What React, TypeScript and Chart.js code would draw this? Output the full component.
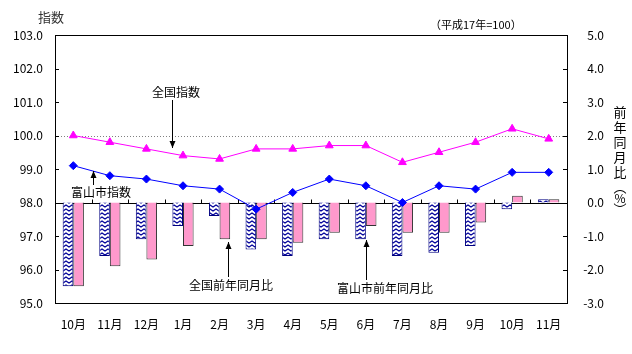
import { useEffect, useRef } from "react";
import { Chart, registerables } from "chart.js";

Chart.register(...registerables);

const months = ["10月", "11月", "12月", "1月", "2月", "3月", "4月", "5月", "6月", "7月", "8月", "9月", "10月", "11月"];
const nationalIndex = [100.0, 99.8, 99.6, 99.4, 99.3, 99.6, 99.6, 99.7, 99.7, 99.2, 99.5, 99.8, 100.2, 99.9];
const toyamaIndex = [99.1, 98.8, 98.7, 98.5, 98.4, 97.8, 98.3, 98.7, 98.5, 98.0, 98.5, 98.4, 98.9, 98.9];
const toyamaYoY = [-2.5, -1.6, -1.1, -0.7, -0.4, -1.4, -1.6, -1.1, -1.1, -1.6, -1.5, -1.3, -0.2, 0.1];
const nationalYoY = [-2.5, -1.9, -1.7, -1.3, -1.1, -1.1, -1.2, -0.9, -0.7, -0.9, -0.9, -0.6, 0.2, 0.1];
const leftTickValues = [95, 96, 97, 98, 99, 100, 101, 102, 103];
const rightTickValues = [-3, -2, -1, 0, 1, 2, 3, 4, 5];

const FONT = '"Noto Sans CJK JP", "Noto Sans", sans-serif';

function makePattern(): CanvasPattern | string {
  const c = document.createElement("canvas");
  c.width = 6;
  c.height = 4;
  const g = c.getContext("2d");
  if (!g) return "#ffffff";
  g.fillStyle = "#ffffff";
  g.fillRect(0, 0, 6, 4);
  g.strokeStyle = "#000099";
  g.lineWidth = 1.1;
  g.beginPath();
  g.moveTo(-1.5, 2.5);
  g.lineTo(0, 1);
  g.lineTo(3, 3);
  g.lineTo(6, 1);
  g.lineTo(7.5, 2);
  g.stroke();
  const p = g.createPattern(c, "repeat");
  return p || "#ffffff";
}

function arrow(ctx: CanvasRenderingContext2D, x: number, y1: number, y2: number) {
  ctx.save();
  ctx.strokeStyle = "#000";
  ctx.fillStyle = "#000";
  ctx.lineWidth = 1;
  ctx.beginPath();
  ctx.moveTo(x + 0.5, y1);
  ctx.lineTo(x + 0.5, y2);
  ctx.stroke();
  const dir = y2 > y1 ? 1 : -1;
  ctx.beginPath();
  ctx.moveTo(x + 0.5, y2);
  ctx.lineTo(x + 0.5 - 3, y2 - dir * 7);
  ctx.lineTo(x + 0.5 + 3, y2 - dir * 7);
  ctx.closePath();
  ctx.fill();
  ctx.restore();
}

const decorPlugin = {
  id: "decor",
  beforeDatasetsDraw(chart: any) {
    const { ctx, chartArea } = chart;
    const y = chart.scales.y;
    const y2 = chart.scales.y2;
    const x = chart.scales.x;
    ctx.save();
    const py = Math.round(y.getPixelForValue(100)) + 0.5;
    ctx.strokeStyle = "#808080";
    ctx.lineWidth = 1;
    ctx.setLineDash([1, 2]);
    ctx.beginPath();
    ctx.moveTo(chartArea.left, py);
    ctx.lineTo(chartArea.right, py);
    ctx.stroke();
    ctx.setLineDash([]);
    const pz = Math.round(y2.getPixelForValue(0)) + 0.5;
    ctx.strokeStyle = "#000";
    ctx.beginPath();
    ctx.moveTo(chartArea.left, pz);
    ctx.lineTo(chartArea.right, pz);
    const n = months.length;
    for (let i = 1; i < n; i++) {
      const bx = Math.round((x.getPixelForValue(i - 1) + x.getPixelForValue(i)) / 2) + 0.5;
      ctx.moveTo(bx, pz);
      ctx.lineTo(bx, pz - 4);
    }
    leftTickValues.forEach((v) => {
      const ty = Math.round(y.getPixelForValue(v)) + 0.5;
      ctx.moveTo(chartArea.left, ty);
      ctx.lineTo(chartArea.left + 4, ty);
    });
    rightTickValues.forEach((v) => {
      const ty = Math.round(y2.getPixelForValue(v)) + 0.5;
      ctx.moveTo(chartArea.right, ty);
      ctx.lineTo(chartArea.right - 4, ty);
    });
    ctx.stroke();
    ctx.restore();
  },
  afterDatasetsDraw(chart: any) {
    const { ctx, chartArea } = chart;
    ctx.save();
    ctx.strokeStyle = "#000";
    ctx.lineWidth = 1;
    ctx.strokeRect(
      Math.round(chartArea.left) + 0.5,
      Math.round(chartArea.top) + 0.5,
      Math.round(chartArea.right - chartArea.left),
      Math.round(chartArea.bottom - chartArea.top)
    );
    ctx.fillStyle = "#000";
    ctx.font = `12px ${FONT}`;
    ctx.textAlign = "center";
    ctx.textBaseline = "middle";
    ctx.fillText("全国指数", 176, 92);
    arrow(ctx, 172, 100, 148);
    ctx.fillText("富山市指数", 101, 192);
    arrow(ctx, 93, 185, 171);
    ctx.fillText("全国前年同月比", 231, 285);
    arrow(ctx, 228, 277, 242);
    ctx.fillText("富山市前年同月比", 385, 288);
    arrow(ctx, 366, 280, 240);
    ctx.font = `13px ${FONT}`;
    ctx.fillStyle = "#333";
    ctx.textAlign = "left";
    ctx.fillText("指数", 38, 17);
    ctx.font = `11px ${FONT}`;
    ctx.fillStyle = "#000";
    ctx.fillText("（平成17年=100）", 430, 25);
    ctx.font = `13px ${FONT}`;
    ctx.textAlign = "center";
    const chars = ["前", "年", "同", "月", "比"];
    chars.forEach((ch, i) => ctx.fillText(ch, 620, 112 + i * 15));
    ctx.fillText("︵", 620, 187);
    ctx.font = `12px ${FONT}`;
    ctx.fillText("%", 620, 198);
    ctx.font = `13px ${FONT}`;
    ctx.fillText("︶", 620, 209);
    ctx.restore();
  },
};

export default function App() {
  const ref = useRef<HTMLCanvasElement | null>(null);
  useEffect(() => {
    document.body.style.margin = "0";
    const canvas = ref.current;
    if (!canvas) return;
    const hatch = makePattern();
    const chart = new Chart(canvas, {
      type: "bar",
      data: {
        labels: months,
        datasets: [
          {
            type: "line",
            label: "全国指数",
            data: nationalIndex,
            yAxisID: "y",
            borderColor: "#ff00ff",
            backgroundColor: "#ff00ff",
            borderWidth: 1,
            pointStyle: "triangle",
            pointRadius: 4.5,
            pointBorderWidth: 1,
            order: 0,
          } as any,
          {
            type: "line",
            label: "富山市指数",
            data: toyamaIndex,
            yAxisID: "y",
            borderColor: "#0000ff",
            backgroundColor: "#0000ff",
            borderWidth: 1,
            pointStyle: "rectRot",
            pointRadius: 4,
            pointBorderWidth: 1,
            order: 0,
          } as any,
          {
            type: "bar",
            label: "富山市前年同月比",
            data: toyamaYoY,
            yAxisID: "y2",
            backgroundColor: hatch as any,
            borderColor: "#000080",
            borderWidth: 1,
            categoryPercentage: 0.58,
            barPercentage: 1,
            order: 1,
          },
          {
            type: "bar",
            label: "全国前年同月比",
            data: nationalYoY,
            yAxisID: "y2",
            backgroundColor: "#ff99cc",
            borderColor: "#333333",
            borderWidth: 1,
            categoryPercentage: 0.58,
            barPercentage: 1,
            order: 1,
          },
        ],
      },
      options: {
        animation: false,
        responsive: true,
        maintainAspectRatio: false,
        layout: { padding: { top: 35, right: 28, left: 0, bottom: 0 } },
        plugins: {
          legend: { display: false },
          tooltip: { enabled: false },
        },
        scales: {
          x: {
            grid: { display: false, drawTicks: false },
            border: { display: false },
            ticks: { color: "#000", padding: 14, font: { family: FONT, size: 12 }, maxRotation: 0, autoSkip: false },
            afterFit: (s: any) => {
              s.height = 51;
            },
          },
          y: {
            position: "left",
            min: 95,
            max: 103,
            grid: { display: false, drawTicks: false },
            border: { display: false },
            ticks: {
              stepSize: 1,
              color: "#000",
              padding: 12,
              font: { family: FONT, size: 12 },
              callback: (v: any) => Number(v).toFixed(1),
            },
            afterFit: (s: any) => {
              s.width = 55;
            },
          },
          y2: {
            position: "right",
            min: -3,
            max: 5,
            grid: { display: false, drawTicks: false },
            border: { display: false },
            ticks: {
              stepSize: 1,
              color: "#000",
              padding: 12,
              crossAlign: "far",
              font: { family: FONT, size: 12 },
              callback: (v: any) => Number(v).toFixed(1),
            },
            afterFit: (s: any) => {
              s.width = 37;
            },
          },
        },
      },
      plugins: [decorPlugin],
    });
    return () => chart.destroy();
  }, []);
  return (
    <div style={{ width: 632, height: 354, position: "relative" }}>
      <canvas ref={ref} />
    </div>
  );
}
